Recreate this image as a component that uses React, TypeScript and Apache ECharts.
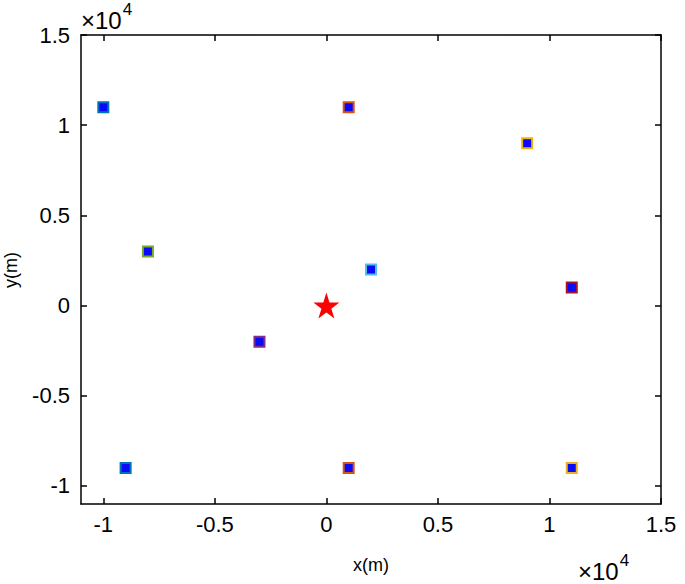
import React, { useEffect, useRef } from "react";
import * as echarts from "echarts";

const tickValues = [-10000, -5000, 0, 5000, 10000, 15000];
const pointX = [-10000, 1000, 9000, -3000, -8000, 2000, 11000, -9000, 1000, 11000];
const pointY = [11000, 11000, 9000, -2000, 3000, 2000, 1000, -9000, -9000, -9000];
const edgeColors = ["#0072BD", "#D95319", "#EDB120", "#7E2F8E", "#77AC30", "#4DBEEE", "#A2142F", "#0072BD", "#D95319", "#EDB120"];
const starPoint = [0, 0];

const STAR =
  "path://M50,0 L61.8,36.2 L100,36.2 L69.1,58.8 L80.9,95.1 L50,72.7 L19.1,95.1 L30.9,58.8 L0,36.2 L38.2,36.2 Z";

const FONT = "Liberation Sans, Arial, sans-serif";

const expRich = {
  a: { fontSize: 24, fontFamily: FONT, fill: "#000", verticalAlign: "bottom" },
  b: { fontSize: 17, fontFamily: FONT, fill: "#000", verticalAlign: "top", padding: [0, 0, 14, 1] },
};

export default function App() {
  const ref = useRef<HTMLDivElement>(null);
  useEffect(() => {
    if (!ref.current) return;
    const chart = echarts.init(ref.current, undefined, { renderer: "svg" });
    const fmt = (v: number) => String(v / 10000);
    const baseAxis = (show: boolean, pos: string, margin: number) => ({
      type: "value",
      min: -11000,
      max: 15000,
      position: pos,
      axisLine: { show: true, onZero: false, lineStyle: { color: "#000", width: 1.5 } },
      axisTick: { show: true, inside: true, length: 6, customValues: tickValues, lineStyle: { color: "#000", width: 1.5 } },
      axisLabel: {
        show,
        customValues: tickValues,
        formatter: fmt,
        color: "#000",
        fontSize: 22,
        fontFamily: FONT,
        margin,
      },
      splitLine: { show: false },
    });
    chart.setOption({
      animation: false,
      backgroundColor: "#fff",
      grid: { left: 81, right: 24, top: 35, bottom: 80, containLabel: false },
      xAxis: [baseAxis(true, "bottom", 9), baseAxis(false, "top", 8)],
      yAxis: [baseAxis(true, "left", 11), baseAxis(false, "right", 8)],
      graphic: [
        { type: "text", left: 81, top: 1, style: { text: "{a|×10}{b|4}", rich: expRich } },
        { type: "text", left: 578, top: 552, style: { text: "{a|×10}{b|4}", rich: expRich } },
        {
          type: "text",
          x: 371,
          y: 565,
          style: { text: "x(m)", fontSize: 18, fontFamily: FONT, fill: "#000", align: "center", verticalAlign: "middle" },
        },
        {
          type: "text",
          x: 11,
          y: 270,
          rotation: Math.PI / 2,
          style: { text: "y(m)", fontSize: 18, fontFamily: FONT, fill: "#000", align: "center", verticalAlign: "middle" },
        },
      ],
      series: [
        {
          type: "scatter",
          symbol: "rect",
          symbolSize: 10,
          data: pointX.map((x, i) => ({
            value: [x, pointY[i]],
            itemStyle: { color: "#0a0af5", borderColor: edgeColors[i], borderWidth: 2, opacity: 1 },
          })),
        },
        {
          type: "scatter",
          symbol: STAR,
          symbolSize: 26,
          itemStyle: { color: "#ff0000", opacity: 1 },
          data: [starPoint],
        },
      ],
    });
    return () => chart.dispose();
  }, []);
  return <div ref={ref} style={{ width: 685, height: 584, position: "absolute", left: 0, top: 0 }} />;
}
